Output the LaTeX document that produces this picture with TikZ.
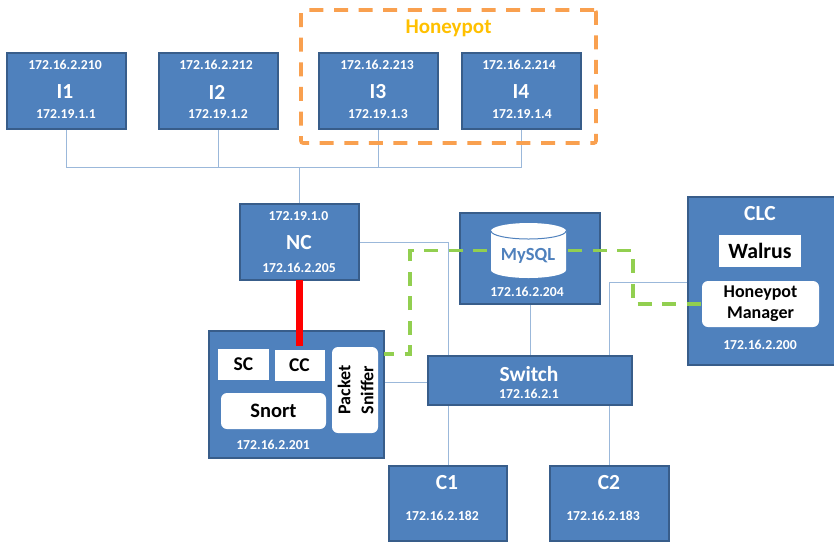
\documentclass[tikz,border=0pt]{standalone}
\usepackage{fontspec}
\setmainfont{Carlito}
\usetikzlibrary{calc,backgrounds}
\definecolor{boxblue}{HTML}{4F81BD}
\definecolor{boxedge}{HTML}{385D8A}
\definecolor{wire}{HTML}{9BB8DA}
\definecolor{orangedash}{HTML}{F9A04F}
\definecolor{greendash}{HTML}{92CF50}
\definecolor{honeytext}{HTML}{FFC000}
\tikzset{
  bluebox/.style={rectangle,draw=boxedge,fill=boxblue,line width=2pt,inner sep=0pt,outer sep=0pt},
  whitebox/.style={rectangle,fill=white,inner sep=0pt,outer sep=0pt,font=\bfseries\fontsize{19.5}{21}\selectfont},
  whiteround/.style={whitebox,rounded corners=6pt},
  ip/.style={inner sep=0pt,text=white,font=\bfseries\fontsize{13.7}{15}\selectfont},
  title/.style={inner sep=0pt,yshift=-1pt,text=white,font=\bfseries\fontsize{21.5}{23}\selectfont},
  wireline/.style={draw=wire,line width=1pt},
  greenlink/.style={draw=greendash,line width=3.6pt,dash pattern=on 14pt off 10.6pt},
  inst/.style={bluebox,minimum width=119pt,minimum height=76pt}
}
\begin{document}
\begin{tikzpicture}[x=1pt,y=-1pt]
\useasboundingbox (0,0) rectangle (834,542);
% instances
\node[inst] (I1) at (66.5,91) {};
\node[inst] (I2) at (218.5,91) {};
\node[inst] (I3) at (378,91) {};
\node[inst] (I4) at (521.5,91) {};
\node[ip] (I1a) at (65,65) {172.16.2.210};
\node[title] (I1t) at (65,91) {I1};
\node[ip] (I1b) at (66,114) {172.19.1.1};
\node[ip] (I2a) at (216,65) {172.16.2.212};
\node[title] (I2t) at (217,91) {I2};
\node[ip] (I2b) at (218,114) {172.19.1.2};
\node[ip] (I3a) at (377,65) {172.16.2.213};
\node[title] (I3t) at (378,91) {I3};
\node[ip] (I3b) at (378,114) {172.19.1.3};
\node[ip] (I4a) at (519,65) {172.16.2.214};
\node[title] (I4t) at (521,91) {I4};
\node[ip] (I4b) at (522,114) {172.19.1.4};
% honeypot frame
\node[rectangle,draw=orangedash,line width=3.6pt,dash pattern=on 14pt off 10.6pt,rounded corners=2pt,minimum width=295pt,minimum height=133pt,inner sep=0pt] (HP) at (448.5,76.5) {};
\node[inner sep=0pt,text=honeytext,font=\bfseries\fontsize{21}{23}\selectfont] (HPt) at (448.5,28.5) {Honeypot};
% NC
\node[bluebox,minimum width=119pt,minimum height=76pt] (NC) at (299.5,242) {};
\node[ip] (NCa) at (298.5,216) {172.19.1.0};
\node[title] (NCt) at (299,242) {NC};
\node[ip] (NCb) at (299,268) {172.16.2.205};
% MySQL
\node[bluebox,minimum width=140pt,minimum height=91pt] (DBbox) at (530,258.5) {};
\node[ip] (DBip) at (527,292) {172.16.2.204};
% CLC
\node[bluebox,minimum width=148pt,minimum height=168pt] (CLC) at (762,281) {};
\node[title] (CLCt) at (760,213) {CLC};
\node[whitebox,minimum width=82pt,minimum height=32pt,font=\bfseries\fontsize{21.8}{23}\selectfont] (Walrus) at (760,251) {Walrus};
\node[whiteround,minimum width=117pt,minimum height=46pt,align=center,font=\bfseries\fontsize{18}{21}\selectfont] (HM) at (760.5,304) {Honeypot\\Manager};
\node[ip] (CLCip) at (760,345) {172.16.2.200};
% Snort host
\node[bluebox,minimum width=175pt,minimum height=127pt] (Host) at (296.5,394.5) {};
\node[whitebox,minimum width=51pt,minimum height=31pt] (SC) at (243.5,364.5) {SC};
\node[whitebox,minimum width=50pt,minimum height=31pt] (CC) at (299.5,365.5) {CC};
\node[whiteround,minimum width=105pt,minimum height=36pt,font=\bfseries\fontsize{20.5}{22}\selectfont] (Snort) at (273.5,411) {Snort};
\node[whiteround,minimum width=46pt,minimum height=86pt] (PSbox) at (355,390) {};
\node[inner sep=0pt,rotate=90,font=\bfseries\fontsize{18}{20}\selectfont] (PS1) at (344,390) {Packet};
\node[inner sep=0pt,rotate=90,font=\bfseries\fontsize{18}{20}\selectfont] (PS2) at (367,390) {Sniffer};
\node[ip] (Hostip) at (273,445) {172.16.2.201};
% Switch
\node[bluebox,minimum width=204pt,minimum height=49pt] (Switch) at (530,380.5) {};
\node[title] (Swt) at (529,373) {Switch};
\node[ip] (Swip) at (529,394) {172.16.2.1};
% clients
\node[bluebox,minimum width=118pt,minimum height=75pt] (C1) at (448,503.5) {};
\node[title] (C1t) at (447,482) {C1};
\node[ip] (C1ip) at (442,516) {172.16.2.182};
\node[bluebox,minimum width=119pt,minimum height=75pt] (C2) at (609.5,503.5) {};
\node[title] (C2t) at (609,482) {C2};
\node[ip] (C2ip) at (603,516) {172.16.2.183};
% thin wires behind the boxes
\coordinate (bus) at ($(NC.north)+(0,-37)$);
\coordinate (hostwire) at ($(Host.north east)+(0,51)$);
\begin{pgfonlayer}{background}
\draw[wireline] (I1.south) |- (bus);
\draw[wireline] (I2.south) |- (bus);
\draw[wireline] (I3.south) |- (bus);
\draw[wireline] (I4.south) |- (bus);
\draw[wireline] (NC.north) -- (bus);
\draw[wireline] (NC.east) -| (C1.north);
\draw[wireline] (DBbox.south) -- (Switch.north);
\draw[wireline] ($(CLC.north west)+(0,85)$) -| (C2.north);
\draw[wireline] (hostwire) -- (Switch.west |- hostwire);
\end{pgfonlayer}
% red link
\draw[red,line width=7pt] (NC.south) -- ($(NC.south)+(0,66)$);
% database cylinder
\node[rectangle,minimum width=75pt,minimum height=55pt,inner sep=0pt,outer sep=0pt] (DB) at (528.5,250.5) {};
\fill[white] ($(DB.north west)+(0,8)$) arc[start angle=180,end angle=0,x radius=37.5pt,y radius=8pt]
  -- ($(DB.south east)+(0,-8)$) arc[start angle=0,end angle=-180,x radius=37.5pt,y radius=8pt] -- cycle;
\draw[boxblue,line width=1pt] ($(DB.north west)+(0,8)$) arc[start angle=180,end angle=360,x radius=37.5pt,y radius=8pt];
\node[inner sep=0pt,text=boxblue,font=\bfseries\fontsize{18.5}{20}\selectfont] (DBt) at (528,256) {MySQL};
% green links
\draw[greenlink,dash phase=4pt] ($(Host.north east)+(0,23)$) -| ($(DB.west)+(-81,0)$) -- ($(DB.west)+(-3,0)$);
\draw[greenlink,dash phase=22.6pt] (DB.east) -| ($(HM.west)+(-69,0)$) -- (HM.west);
\end{tikzpicture}
\end{document}
